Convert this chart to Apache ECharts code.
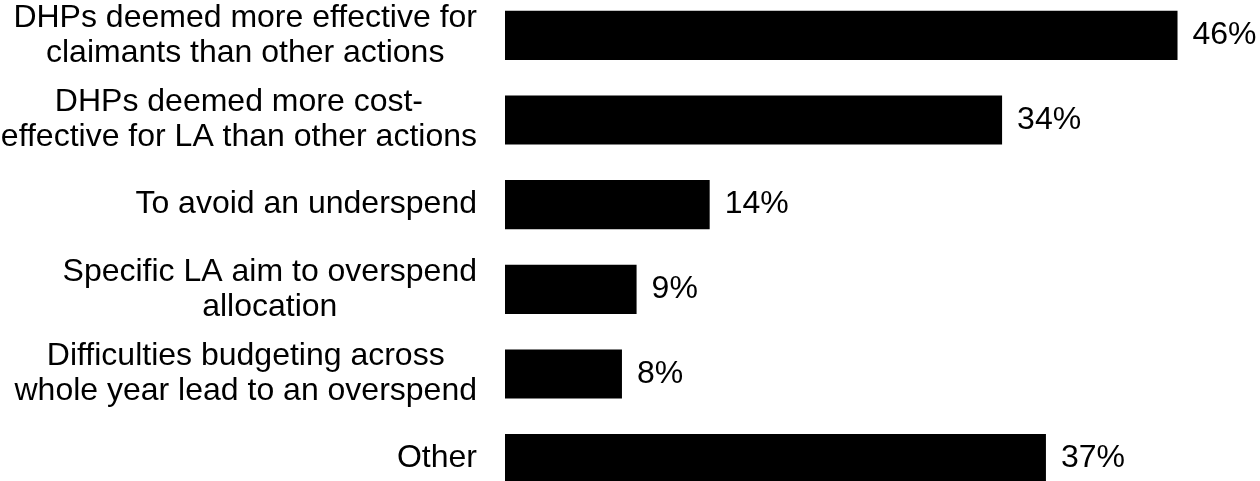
<!DOCTYPE html>
<html>
<head>
<meta charset="utf-8">
<title>Reasons for DHP spending</title>
<script src="https://cdn.jsdelivr.net/npm/echarts@6/dist/echarts.min.js"></script>
<style>
  html, body { margin: 0; padding: 0; background: #ffffff; }
  #chart { width: 1260px; height: 481px; }
</style>
</head>
<body>
<div id="chart"></div>
<script>
// Reasons given, top to bottom
const categories = [
  'DHPs deemed more effective for\nclaimants than other actions',
  'DHPs deemed more cost-\neffective for LA than other actions',
  'To avoid an underspend',
  'Specific LA aim to overspend\nallocation',
  'Difficulties budgeting across\nwhole year lead to an overspend',
  'Other'
];
// Share of respondents (%)
const shares = [46, 34, 14, 9, 8, 37];

const FONT = 'Liberation Sans, Arial, sans-serif';

const chart = echarts.init(document.getElementById('chart'), null, { renderer: 'canvas' });

chart.setOption({
  animation: false,
  backgroundColor: '#ffffff',
  grid: {
    left: 505, right: 24, top: -7, bottom: -20,
    containLabel: false,
    outerBoundsMode: 'none'
  },
  xAxis: {
    type: 'value',
    min: 0,
    max: 50,
    show: false
  },
  yAxis: {
    type: 'category',
    data: categories,
    inverse: true,
    axisLine: { show: false },
    axisTick: { show: false },
    splitLine: { show: false },
    axisLabel: {
      margin: 28,
      align: 'right',
      verticalAlign: 'middle',
      color: '#000000',
      fontFamily: FONT,
      fontSize: 32,
      lineHeight: 35,
      // each line centred within the right-aligned label block
      formatter: function (v) {
        return v.split('\n').map(function (l) { return '{c|' + l + '}'; }).join('\n');
      },
      rich: {
        c: {
          align: 'center',
          color: '#000000',
          fontFamily: FONT,
          fontSize: 32,
          lineHeight: 35
        }
      }
    }
  },
  series: [{
    type: 'bar',
    data: shares,
    barCategoryGap: '42%',
    itemStyle: { color: '#000000' },
    label: {
      show: true,
      position: 'right',
      distance: 15,
      color: '#000000',
      fontFamily: FONT,
      fontSize: 32,
      formatter: '{c}%'
    }
  }]
});
</script>
</body>
</html>
